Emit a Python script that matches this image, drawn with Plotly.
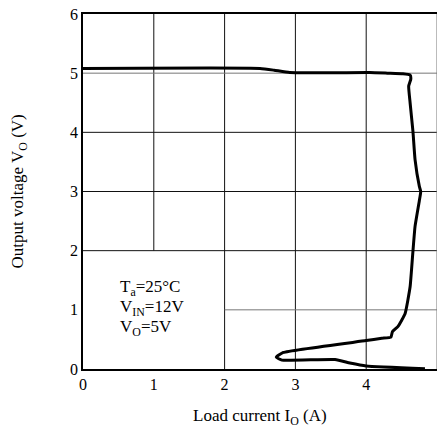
import plotly.graph_objects as go

# Load current (A) and output voltage (V) of the curve
current_a = [0, 2.5, 2.7, 2.92, 4.05, 4.3, 4.52, 4.62, 4.63, 4.60, 4.62, 4.66, 4.69, 4.75, 4.77,
             4.75, 4.69, 4.66, 4.62, 4.55, 4.45, 4.37, 4.35, 4.22, 4.0, 2.83, 2.73, 2.81, 3.56,
             3.77, 4.0, 4.83]
voltage_v = [5.08, 5.08, 5.05, 5.01, 5.01, 5.0, 4.99, 4.97, 4.9, 4.78, 4.5, 4.02, 3.54, 3.09, 3.0,
             2.84, 2.41, 1.99, 1.39, 0.94, 0.72, 0.63, 0.54, 0.52, 0.48, 0.28, 0.2, 0.15, 0.16,
             0.10, 0.05, 0.005]

x_ticks = [0, 1, 2, 3, 4, 5]
y_ticks = [0, 1, 2, 3, 4, 5, 6]

# grid segments: (x0, y0, x1, y1, colour)
grid_segments = [
    (1, 2, 1, 6, "#111"),
    (2, 0, 2, 6, "#111"),
    (3, 0, 3, 6, "#111"),
    (4, 0, 4, 6, "#111"),
    (0, 2, 5, 2, "#111"),
    (0, 3, 5, 3, "#111"),
    (0, 4, 5, 4, "#111"),
    (0, 5, 5, 5, "#777"),
    (2, 1, 5, 1, "#777"),
    (5, 0, 5, 6, "#777"),
]

conditions = ["T<sub>a</sub>=25°C", "V<sub>IN</sub>=12V", "V<sub>O</sub>=5V"]
condition_y = [1.37, 1.03, 0.69]

FONT = "Liberation Serif"

fig = go.Figure()
fig.add_trace(go.Scatter(
    x=current_a, y=voltage_v, mode="lines",
    line=dict(color="black", width=3, shape="spline", smoothing=0.4),
    cliponaxis=False, showlegend=False, hoverinfo="skip",
))

shapes = []
for x0, y0, x1, y1, c in grid_segments:
    shapes.append(dict(type="line", xref="x", yref="y", x0=x0, y0=y0, x1=x1, y1=y1,
                       line=dict(color=c, width=1), layer="below"))

annotations = []
for t, yv in zip(conditions, condition_y):
    annotations.append(dict(x=0.49, y=yv, xref="x", yref="y", text=t, showarrow=False,
                            xanchor="left", yanchor="middle",
                            font=dict(family=FONT, size=17, color="black")))
annotations.append(dict(x=0.5, y=0, xref="paper", yref="paper", yshift=-48,
                        text="Load current I<sub>O</sub> (A)", showarrow=False,
                        xanchor="center", yanchor="middle",
                        font=dict(family=FONT, size=17, color="black")))
annotations.append(dict(x=-0.181, y=0.5, xref="paper", yref="paper",
                        text="Output voltage V<sub>O</sub> (V)", showarrow=False, textangle=-90,
                        xanchor="center", yanchor="middle",
                        font=dict(family=FONT, size=17, color="black")))

fig.update_layout(
    width=438, height=426,
    margin=dict(l=83, r=1, t=14, b=57),
    paper_bgcolor="white", plot_bgcolor="white",
    font=dict(family=FONT, size=16, color="black"),
    shapes=shapes, annotations=annotations,
    xaxis=dict(range=[0, 5], tickvals=x_ticks, ticktext=[str(v) for v in x_ticks],
               showgrid=False, zeroline=False, showline=True, linecolor="black", linewidth=1.5,
               mirror=True, ticks="", automargin=False,
               tickfont=dict(family=FONT, size=16, color="black")),
    yaxis=dict(range=[0, 6], tickvals=y_ticks, ticktext=[str(v) for v in y_ticks],
               showgrid=False, zeroline=False, showline=True, linecolor="black", linewidth=1.5,
               ticks="", automargin=False,
               tickfont=dict(family=FONT, size=16, color="black")),
)

fig.write_html("out.html", config={"displayModeBar": False},
               post_script="document.body.style.margin='0';document.body.style.overflow='hidden';")
